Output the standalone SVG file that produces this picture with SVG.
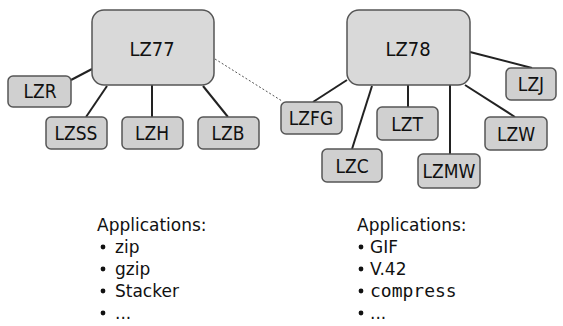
<svg xmlns="http://www.w3.org/2000/svg" width="563" height="326" viewBox="0 0 563 326">
  <style>
    .big { fill: #d9d9d9; stroke: #555; stroke-width: 1.5; }
    .small { fill: #d0d0d0; stroke: #555; stroke-width: 1.5; }
    .bl { font-family: "DejaVu Sans Condensed", "DejaVu Sans", sans-serif; font-size: 20px; fill: #111; text-anchor: middle; }
    .sl { font-family: "DejaVu Sans Condensed", "DejaVu Sans", sans-serif; font-size: 19px; fill: #111; text-anchor: middle; }
    .edge { stroke: #222; stroke-width: 2; fill: none; }
    .dash { stroke: #555; stroke-width: 1; stroke-dasharray: 2 2; fill: none; }
    .app { font-family: "DejaVu Sans", sans-serif; font-size: 17px; fill: #111; }
    .mono { font-family: "DejaVu Sans Mono", monospace; font-size: 18px; }
    .dot { fill: #111; }
  </style>
  <rect width="563" height="326" fill="#ffffff"/>

  <g id="connectors">
    <line class="edge" x1="92" y1="69" x2="71" y2="80"/>
    <line class="edge" x1="107" y1="86" x2="86" y2="117"/>
    <line class="edge" x1="152" y1="85" x2="152" y2="117" stroke-width="1.5"/>
    <line class="edge" x1="203" y1="86" x2="228" y2="117"/>
    <line class="dash" x1="215" y1="59" x2="282" y2="101"/>
    <line class="edge" x1="470" y1="52" x2="532" y2="68"/>
    <line class="edge" x1="347" y1="80" x2="313" y2="102"/>
    <line class="edge" x1="372" y1="86" x2="352" y2="149" stroke-width="1.5"/>
    <line class="edge" x1="408" y1="85" x2="408" y2="107" stroke-width="1.5"/>
    <line class="edge" x1="450" y1="85" x2="450" y2="154" stroke-width="1.5"/>
    <line class="edge" x1="465" y1="85" x2="515" y2="117"/>
  </g>

  <g id="lz77">
    <rect class="big" x="92" y="10" width="122" height="75" rx="12"/>
    <text class="bl" x="152" y="56">LZ77</text>
  </g>
  <g id="lzr">
    <rect class="small" x="8" y="76" width="63" height="31" rx="5"/>
    <text class="sl" x="40" y="98">LZR</text>
  </g>
  <g id="lzss">
    <rect class="small" x="46" y="117" width="61" height="32" rx="5"/>
    <text class="sl" x="76" y="140">LZSS</text>
  </g>
  <g id="lzh">
    <rect class="small" x="122" y="117" width="61" height="32" rx="5"/>
    <text class="sl" x="152" y="140">LZH</text>
  </g>
  <g id="lzb">
    <rect class="small" x="198" y="117" width="61" height="32" rx="5"/>
    <text class="sl" x="228" y="140">LZB</text>
  </g>

  <g id="lz78">
    <rect class="big" x="347" y="10" width="123" height="75" rx="12"/>
    <text class="bl" x="408" y="56">LZ78</text>
  </g>
  <g id="lzj">
    <rect class="small" x="506" y="68" width="50" height="32" rx="5"/>
    <text class="sl" x="531" y="91">LZJ</text>
  </g>
  <g id="lzfg">
    <rect class="small" x="281" y="102" width="61" height="32" rx="5"/>
    <text class="sl" x="311" y="125">LZFG</text>
  </g>
  <g id="lzt">
    <rect class="small" x="377" y="107" width="61" height="33" rx="5"/>
    <text class="sl" x="407" y="131">LZT</text>
  </g>
  <g id="lzw">
    <rect class="small" x="485" y="117" width="62" height="33" rx="5"/>
    <text class="sl" x="516" y="141">LZW</text>
  </g>
  <g id="lzc">
    <rect class="small" x="322" y="149" width="60" height="33" rx="5"/>
    <text class="sl" x="352" y="173">LZC</text>
  </g>
  <g id="lzmw">
    <rect class="small" x="418" y="154" width="62" height="34" rx="5"/>
    <text class="sl" x="449" y="178">LZMW</text>
  </g>

  <g id="apps-lz77" class="app">
    <text x="97" y="231">Applications:</text>
    <circle class="dot" cx="103" cy="247" r="2.4"/><text x="115" y="253">zip</text>
    <circle class="dot" cx="103" cy="269" r="2.4"/><text x="115" y="275">gzip</text>
    <circle class="dot" cx="103" cy="291" r="2.4"/><text x="115" y="297">Stacker</text>
    <circle class="dot" cx="103" cy="313" r="2.4"/><text x="115" y="319">...</text>
  </g>
  <g id="apps-lz78" class="app">
    <text x="357" y="231">Applications:</text>
    <circle class="dot" cx="361" cy="247" r="2.4"/><text x="370" y="253">GIF</text>
    <circle class="dot" cx="361" cy="269" r="2.4"/><text x="370" y="275">V.42</text>
    <circle class="dot" cx="361" cy="291" r="2.4"/><text x="370" y="297" class="mono">compress</text>
    <circle class="dot" cx="361" cy="313" r="2.4"/><text x="370" y="319">...</text>
  </g>
</svg>
